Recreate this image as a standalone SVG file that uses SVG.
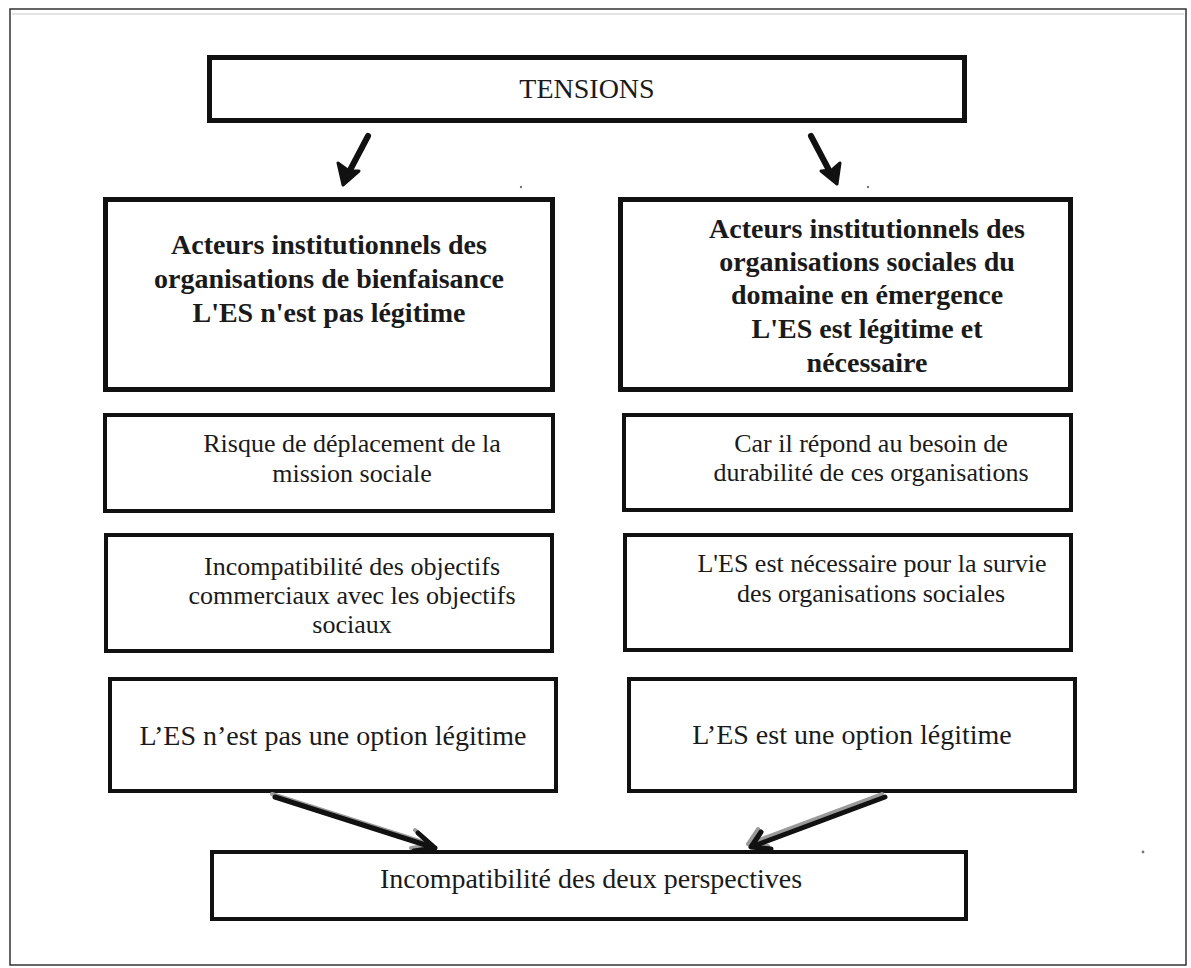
<svg xmlns="http://www.w3.org/2000/svg" width="1191" height="968" viewBox="0 0 1191 968">
  <style>
    .box { fill: #ffffff; stroke: #111111; stroke-width: 4; }
    .thick { stroke-width: 5; }
    .t { font-family: "Liberation Serif", "Times New Roman", serif; fill: #1a1a1a; text-anchor: middle; }
    .reg { font-size: 26px; }
    .big { font-size: 28px; }
    .bold { font-size: 28px; font-weight: bold; }
    .arrow { fill: none; stroke: #111111; stroke-width: 5; stroke-linecap: round; stroke-linejoin: round; }
    .heavy { stroke-width: 6; }
    .head { fill: #111111; stroke: #111111; stroke-width: 3; stroke-linejoin: round; }
    .shadow { fill: none; stroke: #9a9a9a; stroke-width: 4; stroke-linecap: round; stroke-linejoin: round; }
  </style>

  <!-- page background and outer frame -->
  <rect x="0" y="0" width="1191" height="968" fill="#ffffff"/>
  <rect x="10" y="9" width="1176" height="956" fill="none" stroke="#333333" stroke-width="1.5"/>
  <line x1="12" y1="14" x2="1184" y2="14" stroke="#c8c8c8" stroke-width="1.2"/>

  <!-- stray specks -->
  <circle cx="521" cy="187" r="1.2" fill="#777777"/>
  <circle cx="868" cy="187" r="1.2" fill="#777777"/>
  <circle cx="1143" cy="852" r="1.4" fill="#777777"/>

  <g id="tensions">
    <rect class="box thick" x="209.5" y="57.5" width="755" height="63"/>
    <text class="t big" x="587" y="98">TENSIONS</text>
  </g>

  <g id="bienfaisance">
    <rect class="box thick" x="105.5" y="199.5" width="447" height="190"/>
    <text class="t bold" x="329" y="254">Acteurs institutionnels des</text>
    <text class="t bold" x="329" y="288">organisations de bienfaisance</text>
    <text class="t bold" x="329" y="322">L'ES n'est pas légitime</text>
  </g>

  <g id="emergence">
    <rect class="box thick" x="620.5" y="199.5" width="450" height="190"/>
    <text class="t bold" x="867" y="238">Acteurs institutionnels des</text>
    <text class="t bold" x="867" y="271">organisations sociales du</text>
    <text class="t bold" x="867" y="304">domaine en émergence</text>
    <text class="t bold" x="867" y="338">L'ES est légitime et</text>
    <text class="t bold" x="867" y="372">nécessaire</text>
  </g>

  <g id="risque">
    <rect class="box" x="105" y="415" width="448" height="96"/>
    <text class="t reg" x="352" y="452">Risque de déplacement de la</text>
    <text class="t reg" x="352" y="482">mission sociale</text>
  </g>

  <g id="durabilite">
    <rect class="box" x="624" y="415" width="447" height="95"/>
    <text class="t reg" x="871" y="452">Car il répond au besoin de</text>
    <text class="t reg" x="871" y="481">durabilité de ces organisations</text>
  </g>

  <g id="incompatibilite-objectifs">
    <rect class="box" x="106" y="535" width="446" height="116"/>
    <text class="t reg" x="352" y="575">Incompatibilité des objectifs</text>
    <text class="t reg" x="352" y="604">commerciaux avec les objectifs</text>
    <text class="t reg" x="352" y="633">sociaux</text>
  </g>

  <g id="survie">
    <rect class="box" x="625" y="535" width="446" height="115"/>
    <text class="t reg" x="872" y="572">L'ES est nécessaire pour la survie</text>
    <text class="t reg" x="871" y="602">des organisations sociales</text>
  </g>

  <g id="pas-option">
    <rect class="box" x="110" y="679" width="446" height="112"/>
    <text class="t big" x="333" y="745">L’ES n’est pas une option légitime</text>
  </g>

  <g id="option">
    <rect class="box" x="629" y="679" width="446" height="112"/>
    <text class="t big" x="852" y="744">L’ES est une option légitime</text>
  </g>

  <g id="deux-perspectives">
    <rect class="box" x="212" y="852" width="754" height="67"/>
    <text class="t big" x="591" y="888">Incompatibilité des deux perspectives</text>
  </g>

  <g id="connectors">
    <!-- from TENSIONS down to each actor group: heavy shafts with solid barbed heads -->
    <path class="arrow heavy" d="M368 136 L348 174"/>
    <path class="head" d="M338 163 L343 185 L359 171 L349 171 Z"/>
    <path class="arrow heavy" d="M811 136 L831 174"/>
    <path class="head" d="M821 171 L837 184 L840 163 L832 170 Z"/>
    <!-- converging arrows, with their drop shadow -->
    <path class="shadow" d="M272 794 L432 845 M415 830 L432 845 L411 848"/>
    <path class="shadow" d="M882 794 L748 844 M758 829 L748 844 L768 846"/>
    <path class="arrow" d="M275 797 L435 848 M418 833 L435 848 L414 851"/>
    <path class="arrow" d="M885 797 L751 847 M761 832 L751 847 L771 849"/>
  </g>
</svg>
